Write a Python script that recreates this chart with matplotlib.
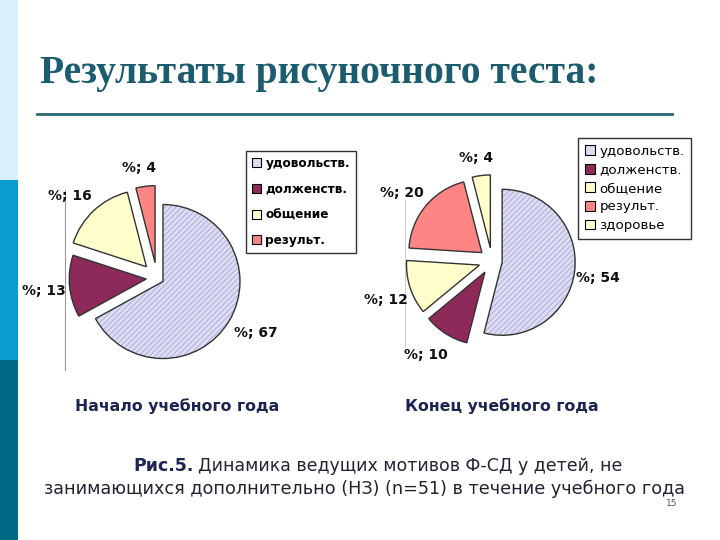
import matplotlib.pyplot as plt
import matplotlib.patches as mpatches

# данные
cats_start = ["удовольств.", "долженств.", "общение", "результ."]
vals_start = [67, 13, 16, 4]
cats_end = ["удовольств.", "долженств.", "общение", "результ.", "здоровье"]
vals_end = [54, 10, 12, 20, 4]

col = {"удовольств.": "#dcdcf2", "долженств.": "#8e2a5a", "общение": "#ffffcc",
       "результ.": "#ff8585", "здоровье": "#ffffcc"}

fig = plt.figure(figsize=(7.2, 5.4), dpi=100)
# фон/текст в пикселях (y вниз)
bg = fig.add_axes([0, 0, 1, 1])
bg.set_xlim(0, 720)
bg.set_ylim(540, 0)
bg.axis("off")

# полоска слева
bg.add_patch(mpatches.Rectangle((0, 0), 18, 180, color="#d8f1fa", lw=0))
bg.add_patch(mpatches.Rectangle((0, 180), 18, 180, color="#0a9bd1", lw=0))
bg.add_patch(mpatches.Rectangle((0, 360), 18, 180, color="#006a84", lw=0))

bg.text(40, 73, "Результаты рисуночного теста:", family="Liberation Serif",
        weight="bold", fontsize=28.5, color="#1b5d6e", va="center", ha="left")
bg.plot([37, 672], [114, 114], color="#2a6878", lw=2)

# серые линии осей
bg.plot([65, 65], [190, 370], color="#9a9a9a", lw=0.8)
bg.plot([405, 405], [200, 347], color="#d0d0d0", lw=0.8)

pa = fig.add_axes([0, 0, 1, 1])
pa.axis("off")


def draw_pie(vals, cats, cx, cy, r, expl):
    wedges, _ = pa.pie(vals, colors=[col[c] for c in cats], startangle=90,
                       counterclock=False, radius=r, center=(cx, 540 - cy),
                       explode=[e * r for e in expl],
                       wedgeprops={"edgecolor": "#333333", "linewidth": 1})
    w = wedges[0]
    w.set_hatch("//////")
    w.set_edgecolor("#a8a8d8")
    w.set_linewidth(0)
    pa.add_patch(mpatches.Wedge(w.center, w.r, w.theta1, w.theta2,
                                facecolor="none", edgecolor="#333333", lw=1))
    return wedges


plt.rcParams["hatch.linewidth"] = 0.6
draw_pie(vals_start, cats_start, 157, 278, 77, [0.09, 0.14, 0.2, 0.2])
draw_pie(vals_end, cats_end, 492, 261, 73, [0.14, 0.18, 0.18, 0.18, 0.18])
pa.set_xlim(0, 720)
pa.set_ylim(0, 540)

# подписи долей
lab_font = dict(family="DejaVu Sans", weight="bold", fontsize=10, color="#111111",
                va="center", ha="center")
pos_start = [(256, 333), (44, 291), (70, 196), (139, 168)]
for v, (x, y) in zip(vals_start, pos_start):
    bg.text(x, y, f"%; {v}", **lab_font)
pos_end = [(598, 278), (426, 355), (386, 300), (402, 193), (476, 158)]
for v, (x, y) in zip(vals_end, pos_end):
    bg.text(x, y, f"%; {v}", **lab_font)

# легенды
def make_legend(cats, x0, y0, bold, spacing, size):
    h = [mpatches.Patch(facecolor=col[c], edgecolor="black", lw=0.8) for c in cats]
    leg = fig.legend(h, cats, loc="upper left",
                     bbox_to_anchor=(x0 / 720, 1 - y0 / 540),
                     borderaxespad=0, fancybox=False, frameon=True,
                     handlelength=0.75, handleheight=0.75, handletextpad=0.35,
                     labelspacing=spacing, borderpad=0.5,
                     prop={"family": "DejaVu Sans", "weight": "bold" if bold else "normal",
                           "size": size})
    leg.get_frame().set_edgecolor("black")
    leg.get_frame().set_linewidth(1)
    return leg


make_legend(cats_start, 246, 151, True, 1.05, 8.7)
make_legend(cats_end, 578, 138, False, 0.42, 9.6)

sub = dict(family="DejaVu Sans", weight="bold", fontsize=11.3, color="#1c2550",
           va="center", ha="left")
bg.text(75, 406, "Начало учебного года", **sub)
bg.text(405, 406, "Конец учебного года", **sub)

t1 = bg.text(133, 466, "Рис.5.", family="DejaVu Sans", weight="bold", fontsize=12.5,
             color="#1c2550", va="center", ha="left")
r = fig.canvas.get_renderer()
x_end = bg.transData.inverted().transform(t1.get_window_extent(r).get_points())[1][0]
bg.text(x_end + 5, 466, "Динамика ведущих мотивов Ф-СД у детей, не", family="DejaVu Sans",
        fontsize=12.5, color="#222233", va="center", ha="left")
bg.text(365, 489, "занимающихся дополнительно (НЗ) (n=51) в течение учебного года",
        family="DejaVu Sans", fontsize=12.7, color="#222233", va="center", ha="center")
bg.text(672, 503, "15", family="DejaVu Sans", fontsize=6.5, color="#555555",
        va="center", ha="center")

fig.savefig("out.png", dpi=100)
